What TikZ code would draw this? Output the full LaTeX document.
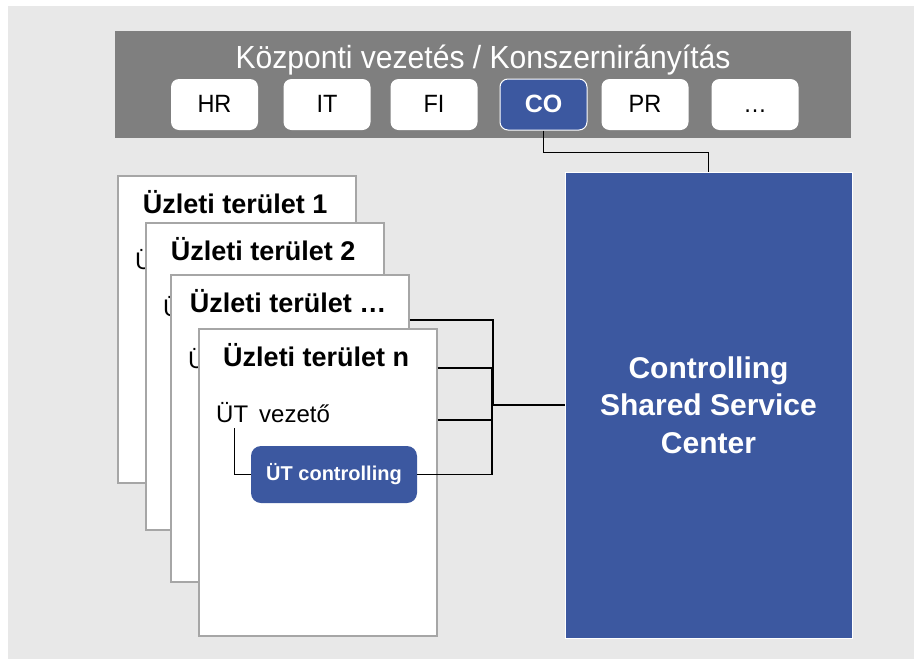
\documentclass[tikz,border=0pt]{standalone}
\usepackage{fontspec}
\setmainfont{Liberation Sans}
\newfontfamily\narrowsans[FakeStretch=0.94]{Liberation Sans}
\usetikzlibrary{calc}

\definecolor{panel}{HTML}{E8E8E8}
\definecolor{barfill}{HTML}{7F7F7F}
\definecolor{corpblue}{HTML}{3C58A0}
\definecolor{cardedge}{HTML}{A6A6A6}

\begin{document}
\begin{tikzpicture}[x=1pt,y=-1pt,
  deptbox/.style={fill=white, rounded corners=8pt, minimum width=87pt,
    minimum height=51pt, inner sep=0pt, text height=15pt, text depth=0pt,
    font=\narrowsans\fontsize{25}{30}\selectfont},
  cobox/.style={deptbox, fill=corpblue, draw=white, line width=1pt,
    text=white, font=\bfseries\fontsize{25}{30}\selectfont},
  card/.style={draw=cardedge, line width=1.5pt, fill=white,
    minimum width=238pt, minimum height=307pt, anchor=north west, inner sep=0pt},
  cardtitle/.style={font=\bfseries\fontsize{27}{32}\selectfont,
    anchor=base, inner sep=0pt},
  plaintext/.style={font=\fontsize{24}{29}\selectfont, anchor=base west,
    inner sep=0pt},
  utcbox/.style={fill=corpblue, rounded corners=10pt, text=white,
    font=\bfseries\fontsize{20}{24}\selectfont, minimum width=166pt,
    minimum height=57pt, inner sep=0pt},
  sscbox/.style={fill=corpblue, draw=white, line width=1pt, text=white,
    font=\bfseries\fontsize{30}{37.5}\selectfont, align=center,
    minimum width=287pt, minimum height=466pt, inner sep=0pt},
  link/.style={draw=black, line width=1.3pt},
  trunk/.style={draw=black, line width=2.6pt}]

% canvas and panel
\useasboundingbox (0,0) rectangle (914,659);
\fill[white] (0,0) rectangle (914,659);
\fill[panel] (8,6) rectangle (914,659);

% head office bar with its departments
\node[fill=barfill, minimum width=736pt, minimum height=107pt,
      anchor=north west, inner sep=0pt] (bar) at (115,31) {};
\node[font=\narrowsans\fontsize{32}{38}\selectfont, text=white,
      anchor=base, inner sep=0pt] (bartitle) at (483,68)
      {Központi vezetés / Konszernirányítás};
\node[deptbox] (hr) at (214.5,104.5) {HR};
\node[deptbox] (it) at (327,104.5) {IT};
\node[deptbox] (fi) at (434,104.5) {FI};
\node[cobox]   (co) at (543.5,104.5) {CO};
\node[deptbox] (pr) at (645,104.5) {PR};
\node[deptbox] (etc) at (755,104.5) {…};

% shared service center
\node[sscbox] (ssc) at (708.5,405) {Controlling\\Shared Service\\Center};
\draw[link] (co.south) -- ++(0,22) -| (ssc.north);

% stacked business-unit cards; on the back cards only the leading
% letter of the manager line peeks out from under the next card
\foreach \i/\x/\y/\t in {1/117/175/1, 2/145/222/2, 3/170/274/…}{
  \node[card] (c\i) at (\x,\y) {};
  \node[cardtitle] (t\i) at ($(c\i.north)+(-1.5,38)$) {Üzleti terület \t};
  \node[plaintext] (ut\i) at ($(c\i.north west)+(18,94)$) {Ü};
}
\node[card] (c4) at (198,328) {};
\node[cardtitle] (t4) at ($(c4.north)+(-1.5,38)$) {Üzleti terület n};
\node[plaintext] (ut4) at ($(c4.north west)+(18,94)$) {ÜT};
\node[plaintext] (vz4) at ($(c4.north west)+(61,94)$) {vezető};

% controlling unit inside the front card
\node[utcbox] (utc) at ($(c4.north west)+(136,146.5)$) {ÜT controlling};
\draw[link] ([xshift=2.5pt,yshift=-6pt]ut4.south) |- (utc.west);

% reporting lines to the shared service center
\coordinate (bus) at (492,405);
\draw[link] ($(c3.north east)+(0,46)$) -| ([xshift=1pt]bus);
\draw[link] ($(c4.north east)+(0,40)$) -| (bus);
\draw[link] ($(c4.north east)+(0,92)$) -| (bus);
\draw[link] (utc.east) -| (bus);
\draw[trunk] (bus) -- (bus -| ssc.west);
\end{tikzpicture}
\end{document}
